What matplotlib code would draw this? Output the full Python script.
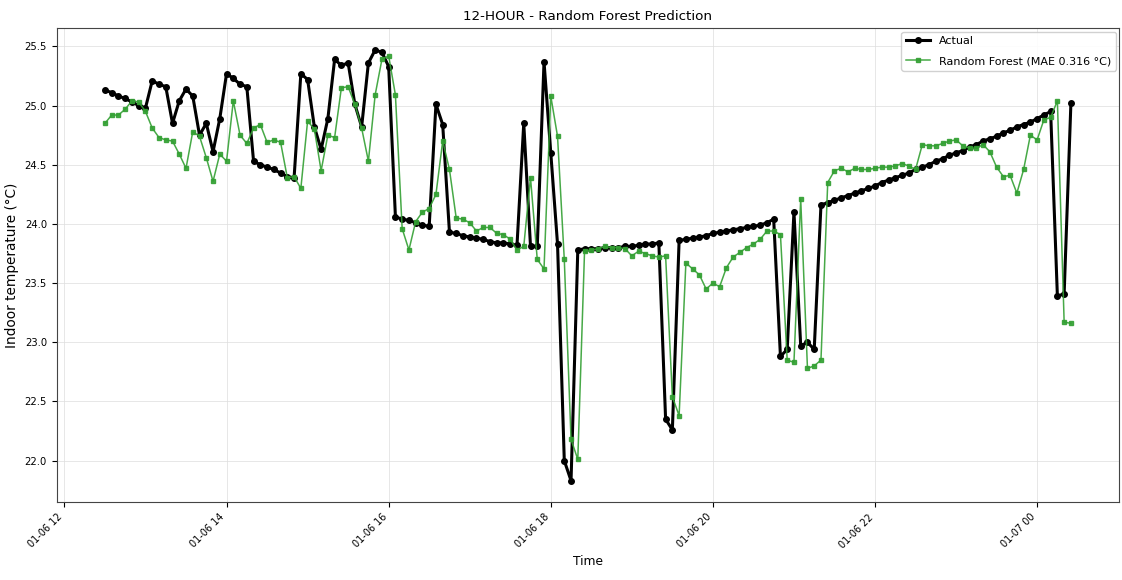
import pandas as pd
import matplotlib
matplotlib.use("Agg")
import matplotlib.pyplot as plt
import matplotlib.dates as mdates

# 5-minute samples, 01-06 12:30 .. 01-07 00:25
start_time = "2025-01-06 12:30"
n_points = 144

actual = [
    25.13, 25.11, 25.08, 25.06, 25.03, 25.00, 24.98,
    25.21, 25.18, 25.16, 24.85, 25.04, 25.14, 25.08,
    24.75, 24.85, 24.61, 24.89, 25.27, 25.23, 25.18,
    25.16, 24.53, 24.50, 24.48, 24.46, 24.43, 24.40,
    24.39, 25.27, 25.22, 24.82, 24.63, 24.89, 25.39,
    25.34, 25.36, 25.01, 24.82, 25.36, 25.47, 25.45,
    25.33, 24.06, 24.04, 24.03, 24.01, 23.99, 23.98,
    25.01, 24.84, 23.93, 23.92, 23.90, 23.89, 23.88,
    23.87, 23.85, 23.84, 23.84, 23.83, 23.82, 24.85,
    23.81, 23.81, 25.37, 24.60, 23.83, 22.00, 21.83,
    23.78, 23.79, 23.79, 23.79, 23.80, 23.80, 23.80,
    23.81, 23.81, 23.82, 23.83, 23.83, 23.84, 22.35,
    22.26, 23.86, 23.87, 23.88, 23.89, 23.90, 23.92,
    23.93, 23.94, 23.95, 23.96, 23.97, 23.98, 23.99,
    24.01, 24.04, 22.88, 22.94, 24.10, 22.97, 23.00,
    22.94, 24.16, 24.18, 24.20, 24.22, 24.24, 24.26,
    24.28, 24.30, 24.32, 24.35, 24.37, 24.39, 24.41,
    24.43, 24.46, 24.48, 24.50, 24.53, 24.55, 24.58,
    24.60, 24.62, 24.65, 24.67, 24.70, 24.72, 24.74,
    24.77, 24.79, 24.82, 24.84, 24.86, 24.89, 24.92,
    24.95, 23.39, 23.41, 25.02,
]

rf_pred = [
    24.85, 24.92, 24.92, 24.97, 25.04, 25.03, 24.95,
    24.81, 24.73, 24.71, 24.70, 24.59, 24.47, 24.78,
    24.74, 24.56, 24.36, 24.59, 24.53, 25.04, 24.75,
    24.68, 24.81, 24.84, 24.69, 24.71, 24.69, 24.39,
    24.40, 24.30, 24.87, 24.80, 24.45, 24.75, 24.73,
    25.15, 25.16, 25.01, 24.81, 24.53, 25.09, 25.39,
    25.42, 25.09, 23.96, 23.78, 24.02, 24.10, 24.13,
    24.25, 24.70, 24.46, 24.05, 24.04, 24.01, 23.94,
    23.97, 23.97, 23.92, 23.91, 23.87, 23.78, 23.81,
    24.39, 23.70, 23.62, 25.08, 24.74, 23.70, 22.18,
    22.01, 23.77, 23.78, 23.79, 23.81, 23.80, 23.80,
    23.79, 23.73, 23.77, 23.75, 23.73, 23.72, 23.73,
    22.54, 22.38, 23.67, 23.62, 23.57, 23.45, 23.50,
    23.47, 23.63, 23.72, 23.76, 23.80, 23.83, 23.87,
    23.94, 23.94, 23.91, 22.85, 22.83, 24.21, 22.78,
    22.80, 22.85, 24.35, 24.45, 24.47, 24.44, 24.47,
    24.46, 24.46, 24.47, 24.48, 24.48, 24.49, 24.51,
    24.49, 24.46, 24.67, 24.66, 24.66, 24.68, 24.70,
    24.71, 24.66, 24.64, 24.64, 24.67, 24.61, 24.48,
    24.40, 24.41, 24.26, 24.46, 24.75, 24.71, 24.88,
    24.90, 25.04, 23.17, 23.16,
]

mae_label = "Random Forest (MAE 0.316 °C)"


def make_plot():
    times = pd.date_range(start_time, periods=n_points, freq="5min")

    fig = plt.figure(figsize=(11.22, 5.8), dpi=100)
    ax = fig.add_axes([0.0505, 0.134, 0.947, 0.817])

    ax.plot(times, actual, color="black", marker="o", markersize=4.0,
            linewidth=2.2, label="Actual")
    ax.plot(times, rf_pred, color="#33a033", marker="s", markersize=3.3,
            linewidth=1.1, alpha=0.9, label=mae_label)

    ax.set_title("12-HOUR - Random Forest Prediction", fontsize=9.7)
    ax.set_xlabel("Time", fontsize=8.8)
    ax.set_ylabel("Indoor temperature (°C)", fontsize=9.8, labelpad=4)

    ax.xaxis.set_major_locator(mdates.HourLocator(interval=2))
    ax.xaxis.set_major_formatter(mdates.DateFormatter("%m-%d %H"))
    plt.setp(ax.get_xticklabels(), rotation=45, ha="right", fontsize=7)
    plt.setp(ax.get_yticklabels(), fontsize=7.2)
    for s in ax.spines.values():
        s.set_color("#444444")

    ax.grid(True, color="#dddddd", linewidth=0.7, alpha=0.7)
    ax.legend(loc="upper right", fontsize=8, framealpha=0.9,
              labelspacing=0.9, borderaxespad=0.3, handlelength=2.2)

    fig.savefig("out.png", dpi=100)


if __name__ == "__main__":
    make_plot()
